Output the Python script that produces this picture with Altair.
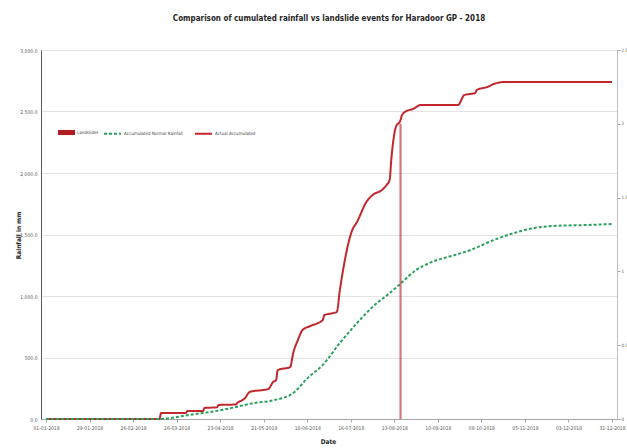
import altair as alt
import pandas as pd

# ---------------- data ----------------
actual_dates = ["2018-01-01", "2018-03-15", "2018-03-16", "2018-04-01", "2018-04-02", "2018-04-12",
                "2018-04-13", "2018-04-21", "2018-04-22", "2018-05-03", "2018-05-04", "2018-05-09",
                "2018-05-12", "2018-05-24", "2018-05-27", "2018-05-29", "2018-05-30", "2018-06-07",
                "2018-06-09", "2018-06-12", "2018-06-15", "2018-06-20", "2018-06-28", "2018-06-29",
                "2018-07-05", "2018-07-07", "2018-07-09", "2018-07-17", "2018-07-20", "2018-07-26",
                "2018-07-30", "2018-08-05", "2018-08-08", "2018-08-10", "2018-08-11", "2018-08-14",
                "2018-08-17", "2018-08-18", "2018-08-21", "2018-08-25", "2018-08-30", "2018-09-23",
                "2018-09-27", "2018-10-04", "2018-10-05", "2018-10-12", "2018-10-16", "2018-10-23",
                "2018-12-31"]
actual_values = [0, 0, 49, 49, 65, 65,
                 90, 95, 114, 118, 130, 170,
                 220, 244, 300, 317, 398, 422,
                 537, 642, 724, 756, 805, 845,
                 862, 870, 1049, 1537, 1602, 1764,
                 1821, 1862, 1902, 1943, 2100, 2374,
                 2430, 2472, 2505, 2520, 2553, 2553,
                 2634, 2650, 2675, 2700, 2724, 2740,
                 2740]

normal_dates = ["2018-01-01", "2018-03-15", "2018-04-03", "2018-04-24", "2018-05-15", "2018-05-28",
                "2018-06-09", "2018-06-18", "2018-06-28", "2018-07-09", "2018-07-20", "2018-07-30",
                "2018-08-10", "2018-08-16", "2018-08-27", "2018-09-06", "2018-09-21", "2018-10-01",
                "2018-10-16", "2018-10-29", "2018-11-11", "2018-11-23", "2018-12-14", "2018-12-31"]
normal_values = [0, 0, 33, 73, 130, 154,
                 211, 330, 440, 618, 780, 911,
                 1024, 1089, 1211, 1276, 1333, 1374,
                 1455, 1512, 1553, 1569, 1577, 1585]

landslide_dates = ["2018-08-17"]
landslide_counts = [2]

tick_dates = ["2018-01-01", "2018-01-29", "2018-02-26", "2018-03-26", "2018-04-23", "2018-05-21",
              "2018-06-18", "2018-07-16", "2018-08-13", "2018-09-10", "2018-10-08", "2018-11-05",
              "2018-12-03", "2018-12-31"]
left_ticks = [0, 500, 1000, 1500, 2000, 2500, 3000]
right_ticks = [0, 0.5, 1, 1.5, 2, 2.5]

NORMAL = "Accumulated Normal Rainfall"
ACTUAL = "Actual Accumulated"
SLIDES = "Landslides"

# ---------------- styling ----------------
FONT = "DejaVu Sans Condensed, Liberation Sans Narrow, sans-serif"
RED = "#c0282d"
GREEN = "#2aa05c"
BAR = "#a83a3a"


def ms(d):
    return int(pd.Timestamp(d, tz="UTC").timestamp() * 1000)


x_scale = alt.Scale(type="utc", domain=[ms(tick_dates[0]), ms(tick_dates[-1])])
x_axis = alt.Axis(values=[ms(d) for d in tick_dates],
                  labelExpr="utcFormat(datum.value, '%d-%m-%Y')",
                  title="Date", titleFont=FONT, titleFontSize=6.5, titleFontWeight="bold",
                  titleColor="#262626", titleX=287, titleY=22, titleBaseline="middle",
                  titleAlign="center",
                  labelFont=FONT, labelFontSize=5, labelColor="#595959", labelPadding=3,
                  tickSize=3, tickColor="#a6a6a6", domainColor="#a6a6a6", grid=False,
                  labelFlush=False, labelOverlap=False)

y_left_scale = alt.Scale(domain=[0, 3000], nice=False)
y_left_axis = alt.Axis(values=left_ticks, format=",.1f", title="Rainfall in mm",
                       titleFont=FONT, titleFontSize=6.5, titleFontWeight="bold",
                       titleColor="#262626", titleAngle=270, titleX=-23, titleY=185,
                       titleAlign="center", titleBaseline="middle",
                       labelFont=FONT, labelFontSize=5, labelColor="#595959",
                       ticks=False, labelPadding=4, domainColor="#595959",
                       grid=True, gridColor="#e3e3e3", gridWidth=1)

actual_df = pd.DataFrame({"date": actual_dates, "value": actual_values, "series": ACTUAL})
normal_df = pd.DataFrame({"date": normal_dates, "value": normal_values, "series": NORMAL})
slide_df = pd.DataFrame({"date": landslide_dates, "count": landslide_counts, "kind": SLIDES})

line_legend = alt.Legend(orient="none", legendX=62, legendY=74, direction="horizontal", title=None,
                         symbolType="stroke", symbolSize=289, symbolStrokeWidth=2,
                         labelFont=FONT, labelFontSize=4.5, labelColor="#404040",
                         columnPadding=8, labelOffset=2, padding=0)
stroke_scale = alt.Scale(domain=[NORMAL, ACTUAL], range=[GREEN, RED])
dash_scale = alt.Scale(domain=[NORMAL, ACTUAL], range=[[3, 2], [1, 0]])


def line_layer(df):
    return alt.Chart(df).mark_line(strokeWidth=2, interpolate="monotone").encode(
        x=alt.X("date:T", scale=x_scale, axis=x_axis),
        y=alt.Y("value:Q", scale=y_left_scale, axis=y_left_axis),
        stroke=alt.Stroke("series:N", scale=stroke_scale, legend=line_legend),
        strokeDash=alt.StrokeDash("series:N", scale=dash_scale, legend=line_legend),
    )


lines = alt.layer(line_layer(actual_df), line_layer(normal_df))

bars = alt.Chart(slide_df).mark_bar(size=2.2, opacity=0.6).encode(
    x=alt.X("date:T", scale=x_scale, axis=x_axis),
    y=alt.Y("count:Q", scale=alt.Scale(domain=[0, 2.5], nice=False),
            axis=alt.Axis(orient="right", values=right_ticks, format="~g", title=None,
                          labelFont=FONT, labelFontSize=4.5, labelColor="#595959",
                          tickSize=3, tickColor="#a6a6a6", domainColor="#bfbfbf",
                          labelPadding=1, grid=False)),
    fill=alt.Fill("kind:N", scale=alt.Scale(domain=[SLIDES], range=["#b01e23"]),
                  legend=alt.Legend(orient="none", legendX=17, legendY=74, title=None,
                                    symbolType="M-1,-0.3H1V0.3H-1Z", symbolSize=289,
                                    symbolStrokeWidth=0, symbolOpacity=1,
                                    labelFont=FONT, labelFontSize=4.5, labelColor="#404040",
                                    labelOffset=2, padding=0)),
)

chart = alt.layer(lines, bars).resolve_scale(y="independent").properties(
    width=576, height=369,
    title=alt.TitleParams("Comparison of cumulated rainfall vs landslide events for Haradoor GP - 2018",
                          font=FONT, fontSize=8, fontWeight="bold", color="#262626",
                          anchor="middle", offset=24),
    autosize=alt.AutoSizeParams(type="none"),
    padding={"left": 41, "top": 50, "right": 10, "bottom": 29},
).configure_view(strokeWidth=0).configure(background="white")

chart.save("out.html", embed_options={"renderer": "svg", "actions": False})
